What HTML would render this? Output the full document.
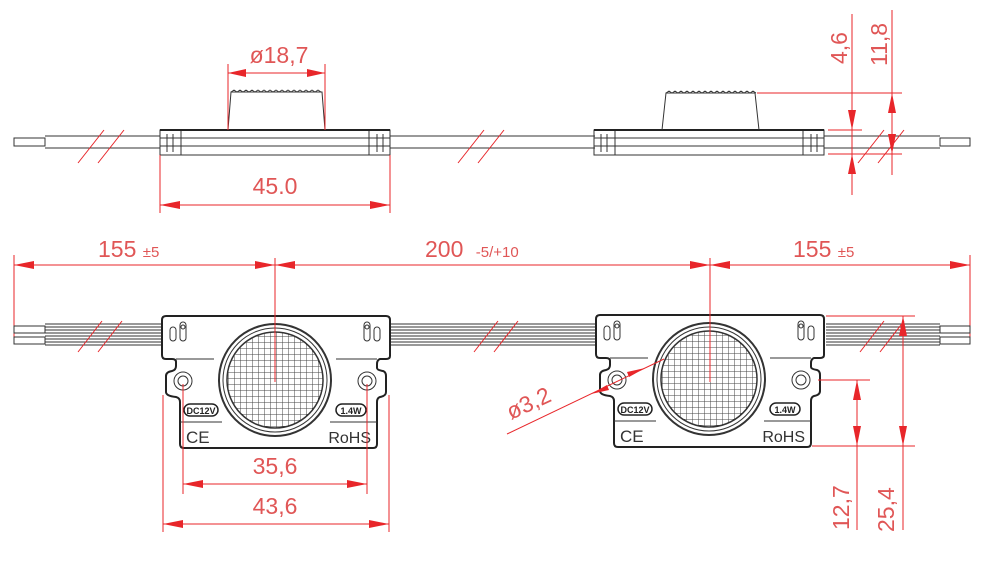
<!DOCTYPE html>
<html><head><meta charset="utf-8"><style>
html,body{margin:0;padding:0;background:#fff;width:1002px;height:561px;overflow:hidden}
svg{display:block}
.r{stroke:#e8262a;stroke-width:1;fill:none}
.k{stroke:#333;fill:none;stroke-width:1}
.kt{stroke:#222;fill:none;stroke-width:2}
.t{font-family:"Liberation Sans",sans-serif;fill:#e05656;font-size:23px}
.a{fill:#e8262a}
</style></head><body>
<svg width="1002" height="561" viewBox="0 0 1002 561" xmlns="http://www.w3.org/2000/svg">
<defs>
<pattern id="g" width="6" height="6" patternUnits="userSpaceOnUse">
<path d="M0 0H6M0 0V6" stroke="#444" stroke-width="1" fill="none"/>
</pattern>
<g id="mod">
 <!-- body outline -->
 <path class="kt" d="M166 316 H386 Q390 316 390 320 V356 Q390 359 386 359 H380 Q377 360 377 364 V368 Q377 370 383 371 Q386 372 386 376 V392 Q386 396 380 397 Q377 398 377 402 V444 Q377 448 373 448 H184 Q180 448 180 444 V402 Q180 398 176 397 Q166 396 166 392 V376 Q166 372 172 371 Q176 370 176 366 V362 Q176 359 172 359 H166 Q162 359 162 355 V320 Q162 316 166 316 Z"/>
 <path class="k" d="M180 422 H222 M330 422 H377"/>
 <path class="k" d="M176 359 H214 M336 359 H377"/>
 <!-- top slots -->
 <rect class="k" x="170" y="327" width="6" height="14" rx="3"/>
 <rect class="k" x="180" y="322" width="6" height="19" rx="3"/>
 <circle class="k" cx="183" cy="327" r="2"/>
 <rect class="k" x="364" y="322" width="6" height="19" rx="3"/>
 <circle class="k" cx="367" cy="327" r="2"/>
 <rect class="k" x="374" y="327" width="6" height="14" rx="3"/>
 <!-- holes -->
 <circle class="k" cx="183" cy="381" r="9"/><circle class="k" cx="183" cy="381" r="5"/>
 <circle class="k" cx="367" cy="381" r="9"/><circle class="k" cx="367" cy="381" r="5"/>
 <!-- lens -->
 <circle cx="275" cy="380" r="56" fill="#fff" stroke="#333" stroke-width="2"/>
 <circle class="k" cx="275" cy="380" r="52"/>
 <circle cx="275" cy="380" r="48" fill="url(#g)" stroke="#333" stroke-width="1.5"/>
 <!-- labels -->
 <rect x="184" y="404" width="34" height="12" rx="6" fill="#fff" stroke="#222" stroke-width="1.5"/>
 <text x="201" y="414" font-family="Liberation Sans,sans-serif" font-size="9" font-weight="bold" text-anchor="middle" fill="#222">DC12V</text>
 <rect x="336" y="404" width="30" height="12" rx="6" fill="#fff" stroke="#222" stroke-width="1.5"/>
 <text x="351" y="414" font-family="Liberation Sans,sans-serif" font-size="9" font-weight="bold" text-anchor="middle" fill="#222">1.4W</text>
 <text x="186" y="443" font-family="Liberation Sans,sans-serif" font-size="17" fill="#333">CE</text>
 <text x="371" y="443" font-family="Liberation Sans,sans-serif" font-size="16" fill="#333" text-anchor="end">RoHS</text>
</g>
<g id="side">
 <rect class="k" x="160" y="130" width="230" height="25"/>
 <path class="k" d="M160 138 H390 M160 146 H390 M181 130 V155 M369 130 V155 M167 134 V152 M173 134 V152 M377 134 V152 M383 134 V152"/>
 <path class="kt" d="M160 130 H390" />
</g>
</defs>

<!-- ===== top-left side view ===== -->
<path class="k" d="M14 138 H45 V146 H14 Z M45 136 H160 M45 148 H160"/>
<path class="r" d="M78 163 L104 130 M98 163 L124 130"/>
<use href="#side"/>
<path class="k" d="M228 130 L231 92 H322 L325 130" stroke-width="1.3"/>
<path d="M231 92 l3 -2 3 2 3 -2 3 2 3 -2 3 2 3 -2 3 2 3 -2 3 2 3 -2 3 2 3 -2 3 2 3 -2 3 2 3 -2 3 2 3 -2 3 2 3 -2 3 2 3 -2 3 2 3 -2 3 2 3 -2 3 2 3 -2 3 2" stroke="#333" fill="none" stroke-width="0.8"/>
<path class="k" d="M390 136 H595 M390 148 H595"/>
<path class="r" d="M458 163 L484 130 M478 163 L504 130"/>
<!-- dims -->
<path class="r" d="M228 64 V130 M325 64 V130 M228 73 H325"/>
<path class="a" d="M228 73 l18 -4 v8z M325 73 l-18 -4 v8z"/>
<text class="t" x="279" y="63" text-anchor="middle">ø18,7</text>
<path class="r" d="M160 155 V213 M390 155 V213 M160 205 H390"/>
<path class="a" d="M160 205 l20 -4 v8z M390 205 l-20 -4 v8z"/>
<text class="t" x="275" y="194" text-anchor="middle">45.0</text>

<!-- ===== top-right side view ===== -->
<use href="#side" transform="translate(434,0)"/>
<path class="k" d="M662 130 L666 93 H755 L759 130" stroke-width="1.3"/>
<path d="M666 93 l3 -2 3 2 3 -2 3 2 3 -2 3 2 3 -2 3 2 3 -2 3 2 3 -2 3 2 3 -2 3 2 3 -2 3 2 3 -2 3 2 3 -2 3 2 3 -2 3 2 3 -2 3 2 3 -2 3 2 3 -2 3 2 3 -2 3 2" stroke="#333" fill="none" stroke-width="0.8"/>
<path class="k" d="M824 136 H940 M824 148 H940 M940 138 H970 V146 H940 Z"/>
<path class="r" d="M858 163 L884 130 M878 163 L904 130"/>
<path class="r" d="M852 14 V195 M892 10 V175 M757 93 H902 M828 130 H862 M828 154 H902"/>
<path class="a" d="M852 130 l-4 -20 h8z M852 154 l-4 20 h8z M892 93 l-4 20 h8z M892 154 l-4 -20 h8z"/>
<text class="t" transform="translate(847,64) rotate(-90)">4,6</text>
<text class="t" transform="translate(887,66) rotate(-90)">11,8</text>

<!-- ===== bottom dims ===== -->
<path class="r" d="M14 255 V340 M275 258 V382 M710 258 V382 M970 255 V340 M14 265 H970"/>
<path class="a" d="M14 265 l20 -4 v8z M275 265 l-20 -4 v8z M275 265 l20 -4 v8z M710 265 l-20 -4 v8z M710 265 l20 -4 v8z M970 265 l-20 -4 v8z"/>
<text class="t" x="98" y="257">155 <tspan font-size="15">±5</tspan></text>
<text class="t" x="425" y="257">200 <tspan font-size="15" dx="6">-5/+10</tspan></text>
<text class="t" x="793" y="257">155 <tspan font-size="15">±5</tspan></text>

<!-- wires bottom -->
<path class="k" d="M14 326 H45 V333 H14 Z M14 337 H45 V344 H14 Z"/>
<path class="k" d="M45 324 H162 M45 327 H162 M45 330 H162 M45 333 H162 M45 336 H162 M45 339 H162 M45 342 H162 M45 345 H162"/>
<path class="r" d="M78 352 L102 321 M98 352 L122 321"/>
<path class="k" d="M390 324 H596 M390 327 H596 M390 330 H596 M390 333 H596 M390 336 H596 M390 339 H596 M390 342 H596 M390 345 H596"/>
<path class="r" d="M474 352 L498 321 M494 352 L518 321"/>
<path class="k" d="M826 324 H940 M826 327 H940 M826 330 H940 M826 333 H940 M826 336 H940 M826 339 H940 M826 342 H940 M826 345 H940"/>
<path class="k" d="M940 326 H970 V333 H940 Z M940 337 H970 V344 H940 Z"/>
<path class="r" d="M860 352 L884 321 M880 352 L904 321"/>

<use href="#mod"/>
<use href="#mod" transform="translate(434,-1)"/>
<path class="r" d="M275 258 V382 M710 258 V382"/>

<!-- bottom-left dims -->
<path class="r" d="M183 384 V494 M367 384 V494 M163 395 V532 M389 395 V532 M183 484 H367 M163 524 H389"/>
<path class="a" d="M183 484 l20 -4 v8z M367 484 l-20 -4 v8z M163 524 l20 -4 v8z M389 524 l-20 -4 v8z"/>
<text class="t" x="275" y="474" text-anchor="middle">35,6</text>
<text class="t" x="275" y="514" text-anchor="middle">43,6</text>

<!-- bottom-right dims -->
<path class="r" d="M818 380 H870 M812 446 H915 M826 316 H915 M857 380 V530 M903 316 V530"/>
<path class="a" d="M857 380 l-4 20 h8z M857 446 l-4 -20 h8z M903 316 l-4 20 h8z M903 446 l-4 -20 h8z"/>
<text class="t" transform="translate(849,530) rotate(-90)">12,7</text>
<text class="t" transform="translate(894,532) rotate(-90)">25,4</text>
<!-- ø3,2 leader -->
<path class="r" d="M507 434 L664 359"/>
<path class="a" d="M591 394 l16 -9 l2 5z M645 368 l-16 9 l-2 -5z"/>
<text class="t" transform="translate(511,420) rotate(-25)">ø3,2</text>
</svg>
</body></html>
